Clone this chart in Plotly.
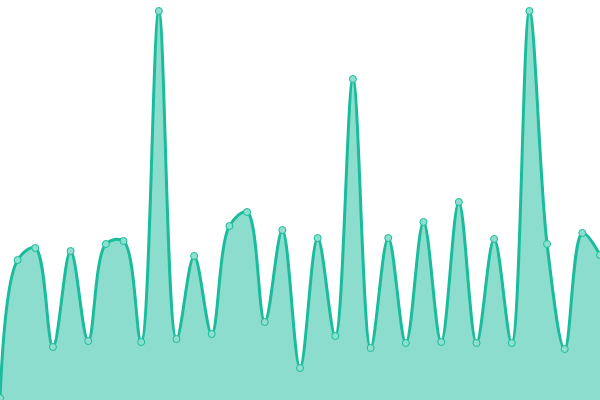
import plotly.graph_objects as go

x_index = list(range(35))
values = [2, 140, 152, 53, 149, 59, 156, 159, 58, 389, 61, 144, 66, 174, 188, 78, 170, 32,
          162, 64, 321, 52, 162, 57, 178, 58, 198, 57, 161, 57, 389, 156, 51, 167, 145]

fig = go.Figure(go.Scatter(
    x=x_index, y=values, mode="lines+markers",
    line=dict(color="#1abc9c", width=3, shape="spline", smoothing=1),
    marker=dict(size=7, color="#8ce0cd", line=dict(color="#1abc9c", width=1)),
    fill="tozeroy", fillcolor="rgba(26,188,156,0.5)",
))
fig.update_layout(
    width=600, height=400, margin=dict(l=0, r=0, t=0, b=0),
    paper_bgcolor="white", plot_bgcolor="white", showlegend=False,
    xaxis=dict(range=[0, 34], visible=False),
    yaxis=dict(range=[0, 400], visible=False),
)
fig.write_html("out.html", config={"displayModeBar": False},
               post_script="document.body.style.margin='0';document.body.style.overflow='hidden';")
